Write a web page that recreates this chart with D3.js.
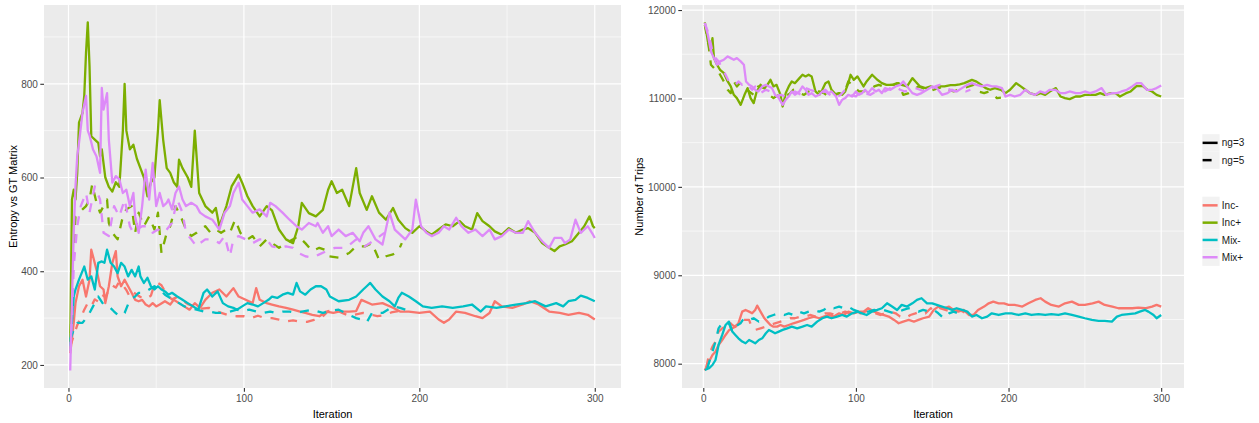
<!DOCTYPE html>
<html><head><meta charset="utf-8">
<script src="https://cdn.jsdelivr.net/npm/d3@7/dist/d3.min.js"></script>
<style>body{margin:0;background:#fff}svg{display:block}text{font-family:"Liberation Sans",Arial,sans-serif}</style>
</head><body><svg id="c" width="1259" height="423"></svg>
<script>
// ---------- categories / labels ----------
const groups = ["Inc-","Inc+","Mix-","Mix+"];
const groupColors = ["#F8766D","#7CAE00","#00BFC4","#DD8AF8"];
const ngLabels = ["ng=3","ng=5"];
const ticksX = [0,100,200,300];
const minorX = [50,150,250];
const leftTicksY = [200,400,600,800];
const leftMinorY = [300,500,700,900];
const rightTicksY = [8000,9000,10000,11000,12000];
const rightMinorY = [8500,9500,10500,11500];
const leftTitleY = "Entropy vs GT Matrix";
const rightTitleY = "Number of Trips";
const titleX = "Iteration";

// ---------- left panel: [iteration, entropy] ----------
const L_IncMinus_3 = [[1,225],[3,290],[4,332],[6,368],[8,382],[10,346],[12,382],[13,446],[16,403],[18,368],[20,361],[21,332],[23,368],[25,418],[27,443],[28,389],[30,368],[32,382],[34,368],[36,354],[38,339],[40,336],[42,339],[44,329],[46,325],[48,332],[50,325],[52,329],[55,336],[58,329],[60,339],[63,332],[66,325],[69,318],[72,332],[75,322],[78,339],[82,354],[86,361],[90,346],[94,364],[97,346],[101,339],[105,332],[107,364],[109,339],[113,332],[116,329],[120,325],[124,322],[128,318],[132,314],[135,311],[139,307],[143,304],[147,314],[151,311],[154,314],[160,314],[164,315],[167,339],[173,329],[179,332],[185,322],[189,314],[194,314],[200,311],[206,314],[211,297],[214,290],[217,297],[221,314],[226,311],[232,304],[236,300],[240,311],[243,336],[247,325],[253,322],[259,329],[263,336],[268,329],[274,314],[280,311],[285,307],[291,311],[296,307],[300,297]];
const L_IncMinus_5 = [[1,240],[3,262],[5,285],[7,300],[9,318],[11,332],[13,325],[15,340],[17,335],[19,350],[21,345],[23,360],[25,370],[27,365],[29,378],[31,370],[33,360],[35,345],[37,355],[39,350],[41,345],[44,340],[47,348],[49,372],[51,375],[53,370],[56,350],[59,340],[62,345],[65,338],[68,330],[72,325],[76,320],[80,322],[84,315],[88,310],[92,305],[96,304],[100,304],[104,300],[108,305],[112,300],[116,300],[120,297],[124,293],[128,295],[132,292],[136,292],[140,296],[144,300],[148,315],[152,318],[156,311],[160,305],[164,308],[168,311],[172,308],[176,304],[180,306],[184,312],[188,315]];
const L_IncPlus_3 = [[1,240],[2,553],[3,574],[4,553],[5,610],[6,717],[8,738],[9,774],[10,866],[11,931],[12,838],[13,688],[15,681],[17,674],[18,645],[19,660],[21,600],[23,580],[25,570],[27,590],[29,580],[31,700],[32,800],[33,700],[35,660],[37,670],[39,640],[41,620],[43,600],[45,560],[47,590],[49,600],[51,700],[52,765],[54,680],[56,620],[58,610],[60,590],[62,580],[63,638],[65,620],[68,600],[70,580],[72,700],[74.5,567],[78,539],[82,525],[84,535],[86,496],[90,539],[93,581],[97,606],[99,589],[102,560],[105,539],[109,517],[113,539],[116,530],[120,489],[124,468],[128,460],[131,496],[133,546],[137,524],[141,517],[145,531],[148,574],[150,592],[153,567],[156,574],[160,539],[164,620],[166,567],[170,531],[173,560],[177,525],[181,510],[185,535],[188,510],[192,492],[196,482],[200,496],[204,485],[207,478],[211,489],[215,500],[219,496],[223,507],[226,496],[230,489],[233,524],[236,507],[240,496],[243,485],[247,478],[251,492],[255,482],[259,489],[262,492],[266,482],[270,460],[274,450],[277,443],[280,453],[283,457],[287,464],[291,482],[294,496],[297,517],[299,496],[300,492]];
const L_IncPlus_5 = [[1,230],[2,350],[3,446],[4,517],[6,525],[8,532],[10,539],[12,553],[13.5,585],[16,546],[18,525],[20,539],[22,553],[23,503],[25,482],[28,468],[31,517],[33,532],[36,539],[38,482],[40,525],[43,496],[46,517],[49,489],[51,525],[53,439],[56,482],[58,496],[61,539],[64,517],[67,489],[70,475],[73,482],[75,489],[78,496],[81,482],[84,489],[87,482],[90,489],[92,482],[95,510],[98,482],[102,468],[105,475],[109,453],[113,468],[116,460],[120,450],[124,460],[128,468],[131,475],[135,460],[139,443],[143,450],[146,446],[148,432],[154,429],[160,439],[164,453],[169,453],[173,460],[177,425],[181,432],[185,436],[188,443],[190,460]];
const L_MixMinus_3 = [[1,240],[3,346],[4,361],[6,382],[9,410],[11,382],[13,389],[15,361],[17,418],[19,421],[20.5,418],[22,446],[24,418],[26,410],[28,396],[30,418],[32,410],[34,389],[36,403],[38,389],[40,410],[41,389],[43,375],[45,386],[47,368],[49,361],[51,368],[53,361],[55,357],[57,350],[59,354],[62,346],[65,339],[68,332],[71,325],[74,318],[77,354],[79,361],[82,346],[85,357],[88,332],[91,325],[94,322],[96,318],[99,325],[102,332],[105,329],[108,325],[111,332],[114,339],[116,346],[119,343],[122,350],[125,354],[128,350],[130,375],[132,357],[135,350],[138,361],[141,368],[144,368],[147,361],[149,346],[154,336],[160,339],[164,346],[168,361],[170,368],[172,375],[175,361],[179,346],[183,336],[186,325],[188,343],[190,354],[194,346],[198,336],[202,325],[207,322],[213,325],[219,322],[225,325],[230,329],[235,314],[238,325],[244,322],[249,325],[255,329],[261,332],[266,336],[272,325],[278,332],[282,325],[285,336],[289,339],[292,348],[296,343],[300,336]];
const L_MixMinus_5 = [[1,254],[3,275],[5,290],[8,290],[11,304],[14,325],[17,346],[20,329],[23,325],[26,314],[29,304],[32,311],[35,339],[38,346],[40,354],[43,354],[46,361],[49,368],[52,361],[55,350],[58,343],[60,339],[63,332],[66,325],[69,322],[73,318],[77,314],[80,314],[84,311],[88,311],[92,314],[96,318],[99,314],[103,318],[107,314],[111,311],[115,314],[118,311],[122,314],[126,314],[130,311],[133,314],[139,318],[145,311],[150,316],[154,318],[160,307],[164,300],[167,297],[170,291],[173,311],[179,311],[185,325],[189,322],[192,318]];
const L_MixPlus_3 = [[1,188],[2,339],[3,482],[4,581],[5,645],[6,674],[8,738],[10,774],[11,700],[12,690],[14,660],[16,645],[18,610],[19,791],[20,745],[22,780],[23,681],[25,589],[27,603],[29,596],[31,567],[33,574],[35,539],[37,567],[38,517],[40,482],[42,539],[44,617],[46,553],[48,631],[50,539],[52,567],[54,539],[56,546],[57,553],[59,532],[61,567],[63,581],[65,553],[67,539],[70,546],[73,539],[75,525],[78,517],[82,510],[86,489],[89,525],[92,539],[94,567],[97,589],[99,553],[102,539],[105,525],[109,532],[113,517],[115,546],[118,539],[122,525],[126,510],[130,496],[133,489],[137,503],[141,496],[142,503],[145,482],[148,496],[150,475],[154,489],[158,475],[162,482],[166,464],[168,482],[171,496],[175,468],[179,457],[183,525],[186,489],[188,482],[192,468],[196,489],[198,553],[201,496],[204,482],[207,475],[211,482],[214,496],[217,489],[221,514],[224,496],[228,482],[232,489],[236,475],[240,489],[243,468],[247,475],[251,489],[255,482],[259,482],[262,507],[266,482],[270,464],[274,450],[277,471],[281,471],[283,460],[286,468],[289,510],[292,482],[296,496],[299,478],[300,471]];
const L_MixPlus_5 = [[1,230],[2,304],[3,411],[5,496],[7,539],[10,567],[12,525],[15,581],[18,553],[20,482],[23,475],[26,539],[29,517],[32,553],[35,496],[37,482],[39,489],[42,496],[45,496],[48,482],[51,489],[54,482],[56,489],[59,503],[62,553],[65,525],[67,482],[70,468],[73,453],[75,460],[78,468],[82,468],[86,460],[89,475],[92,432],[94,468],[97,475],[101,468],[105,460],[109,468],[113,468],[116,453],[120,450],[124,453],[128,450],[131,439],[135,432],[139,429],[143,436],[147,443],[152,450],[158,450],[164,468],[169,453],[175,468],[180,482]];

// ---------- right panel: [iteration, number of trips] ----------
const R_IncMinus_3 = [[1,7922],[3.7,8023],[6,8099],[8,8136],[10,8212],[12.4,8268],[14.6,8325],[17,8382],[19,8400],[21,8419],[23,8457],[25.5,8589],[27.7,8608],[30,8589],[32,8570],[34,8608],[35.3,8657],[37.5,8589],[40,8514],[42,8476],[44,8438],[46,8419],[48.4,8419],[50.6,8438],[53,8419],[56,8438],[59,8457],[62.6,8476],[66,8495],[69,8514],[72.4,8533],[76,8514],[79,8533],[82,8551],[85.5,8533],[89,8570],[92,8551],[95,8589],[98.6,8570],[102,8589],[105,8589],[108,8627],[112,8589],[115,8570],[118,8551],[121.5,8533],[125,8495],[128,8457],[131,8476],[134.6,8495],[138,8476],[141,8495],[144,8514],[148,8533],[151,8608],[154,8646],[157.5,8627],[161,8646],[164,8608],[167,8589],[170.6,8608],[174,8551],[177,8551],[180,8608],[184,8646],[187,8683],[190,8702],[193.5,8683],[197,8683],[200,8665],[204,8665],[209,8646],[213,8683],[217.5,8721],[221,8740],[224,8702],[228,8665],[233,8646],[237,8683],[241.5,8702],[246,8665],[250,8665],[255,8683],[259,8702],[263,8665],[268,8646],[272,8627],[276,8627],[281,8627],[285,8635],[289.5,8627],[294,8646],[297,8665],[300,8646]];
const R_IncMinus_5 = [[2,7960],[3.7,8099],[6,8193],[8,8250],[10,8363],[12.4,8400],[14.6,8419],[16.8,8476],[19,8438],[21,8419],[23,8457],[26.6,8495],[30,8495],[32,8400],[34,8382],[37.5,8400],[41,8419],[44,8438],[47,8457],[50.6,8476],[54,8495],[57,8514],[60,8514],[64,8533],[67,8533],[70,8551],[73.5,8533],[77,8551],[80,8570],[83,8570],[86.6,8551],[90,8570],[93,8589],[96,8570],[100,8589],[103,8570],[106,8589],[109.5,8608],[113,8570],[116,8551],[119,8570],[122.6,8589],[126,8570],[129,8533],[132,8514],[135.7,8551],[139,8570],[142,8589],[145.5,8570],[149,8627],[152,8589],[155,8627],[158.6,8608],[162,8589],[165,8608],[168,8608],[172,8570]];
const R_IncPlus_3 = [[1,11860],[3,11645],[5,11570],[6,11683],[7,11456],[9,11381],[11,11324],[13.5,11287],[16,11192],[18,11136],[20,11041],[22,11004],[24.5,10928],[27,11041],[29,11117],[31,11004],[33,10947],[35,11079],[37.5,11154],[40,11117],[42,11154],[44,11211],[46,11136],[48,11154],[50.6,11041],[52,10909],[54,11060],[56,11136],[58,11192],[60,11173],[63,11230],[65,11268],[67,11249],[69,11268],[71,11249],[73.5,11079],[76,11041],[78,11098],[80,11173],[82,11192],[84,11098],[87,11041],[89,11060],[91,11041],[93,11079],[95,11173],[96.5,11268],[98.6,11211],[101,11249],[103,11192],[105,11136],[107,11192],[110.6,11268],[114,11211],[117,11173],[120,11154],[124,11154],[127,11173],[130,11154],[133.5,11136],[137,11230],[139,11192],[142,11136],[145.5,11117],[149,11136],[152,11117],[155,11136],[158,11136],[162,11150],[165,11150],[168,11160],[171,11173],[176,11210],[179,11190],[182,11155],[185,11117],[188,11098],[191,11117],[195,11098],[198,11060],[201,11098],[205,11173],[208,11136],[211,11098],[214,11060],[218,11041],[221,11060],[224,11041],[227,11079],[231,11117],[234,11022],[237,11004],[240,10992],[244,11022],[247,11022],[250,11041],[254,11041],[257,11041],[260,11060],[263,11041],[267,11060],[270,11060],[273,11022],[277,11060],[280,11079],[284,11143],[288,11140],[291,11098],[294,11079],[297,11041],[300,11022]];
const R_IncPlus_5 = [[1,11834],[3.7,11570],[5,11381],[7,11343],[9,11343],[11,11268],[13.5,11192],[16,11098],[18,11060],[20,11192],[22,11136],[24,11173],[27,11136],[30,11079],[33,11041],[36,11136],[40,11117],[43,11041],[46,11004],[49.5,11041],[53,11060],[56,11041],[59,11098],[63,11060],[66,11041],[69,11079],[72,11098],[76,11079],[79,11060],[82,11022],[85.5,11041],[89,11060],[92,11041],[95,11192],[98.6,11136],[102,11079],[105,11079],[108,11098],[112,11136],[115,11154],[118,11136],[121.5,11154],[125,11154],[128,11173],[131,11041],[134.6,11060],[138,11098],[141,11136],[144,11117],[148,11079],[151,11098],[154,11117],[157.5,11136],[161,11098],[164,11079],[167,11098],[170.6,11117],[174,11136],[177,11154],[180,11079],[184,11060],[187,11079],[190,11041],[192.4,11004],[195,11010]];
const R_MixMinus_3 = [[1,7929],[3.7,7948],[6,7985],[8,8042],[10,8212],[12.4,8325],[14.6,8438],[16.8,8476],[19,8363],[21,8325],[23,8287],[25.5,8250],[27.7,8231],[30,8268],[32,8250],[34,8231],[36.4,8268],[38.6,8287],[41,8344],[43,8382],[45,8363],[47,8344],[49.5,8363],[52,8382],[55,8400],[58,8419],[61.5,8400],[65,8419],[68,8438],[71,8419],[74.6,8476],[78,8514],[81,8533],[84,8514],[87.7,8533],[91,8551],[94,8533],[97.5,8570],[101,8589],[104,8570],[107,8551],[110.6,8589],[114,8608],[117,8627],[120.4,8683],[123.7,8646],[127,8608],[130,8665],[133.5,8646],[137,8683],[140,8721],[143,8740],[146.6,8683],[150,8683],[153,8665],[156.4,8646],[160,8627],[163,8608],[166,8627],[169.5,8608],[173,8589],[176,8533],[179,8551],[182.6,8514],[186,8533],[189,8570],[193.5,8551],[198,8570],[202,8570],[206.6,8551],[211,8570],[215,8551],[219.6,8560],[224,8551],[228,8560],[232.7,8551],[237,8570],[241.5,8551],[246,8533],[250,8514],[254.6,8495],[259,8485],[263,8485],[267.7,8476],[271,8533],[274,8551],[278.6,8560],[283,8570],[286,8589],[289.5,8608],[291.6,8589],[295,8551],[297,8514],[300,8551]];
const R_MixMinus_5 = [[2.6,7948],[6,8136],[8,8250],[10,8400],[12.4,8457],[14.6,8438],[16.8,8457],[19,8363],[21,8419],[24.4,8457],[26.6,8514],[30,8495],[33,8514],[36.4,8476],[40,8495],[43,8533],[46,8551],[49.5,8570],[53,8551],[56,8570],[59,8551],[62.6,8589],[66,8570],[69,8589],[72.4,8608],[76,8589],[79,8608],[82,8646],[85.5,8627],[89,8646],[92,8627],[95,8646],[98.6,8608],[102,8589],[105,8570],[108,8589],[112,8608],[115,8589],[118,8608],[121.5,8589],[125,8570],[128,8589],[131,8608],[134.6,8627],[138,8608],[141,8589],[144,8608],[148,8589],[151,8608],[154,8570],[157.5,8514],[161,8570],[164,8589],[167,8570],[168,8560]];
const R_MixPlus_3 = [[1,11852],[3,11720],[5,11532],[7,11456],[9,11381],[11,11419],[13.5,11438],[16,11475],[18,11456],[20,11438],[22,11456],[24.5,11419],[26.6,11381],[28,11192],[30,11154],[32,11136],[34,11098],[36,11079],[38.6,11136],[41,11154],[43,11136],[45,11117],[47,11041],[49.5,11004],[52,10928],[54,10985],[56,11022],[58,11079],[60,11041],[63,11079],[65,11136],[67,11098],[69,11041],[71,11060],[73.5,11022],[76,11041],[78,11079],[80,11098],[82,11060],[84,11079],[87,11022],[89,10928],[91,10985],[93,11004],[95,11041],[97.5,11022],[100,11079],[102,11041],[104,11060],[106,11098],[108,11060],[110.6,11117],[113,11079],[115,11098],[117,11060],[119,11117],[122.6,11098],[126,11136],[129,11154],[131,11192],[133.5,11136],[137,11060],[140,11041],[143,11060],[146.6,11098],[150,11136],[153,11117],[156.4,11041],[160,11060],[163,11098],[166,11079],[169.5,11117],[173,11154],[176,11173],[179,11154],[182.6,11136],[186,11154],[189,11136],[192,11136],[195.7,11117],[198,11022],[201,11041],[204,11022],[207.6,11041],[211,11098],[214,11060],[217.5,11041],[220.7,11079],[224,11060],[227,11098],[230.6,11098],[234,11060],[237,11060],[240,11079],[244,11060],[247,11060],[250,11079],[253.5,11060],[257,11079],[261,11117],[264,11041],[268,11060],[271,11060],[274,11079],[277.5,11098],[281,11136],[284,11173],[287,11173],[290.6,11098],[294,11098],[297,11117],[300,11147]];
const R_MixPlus_5 = [[1,11852],[3.7,11720],[6,11532],[8,11456],[10,11419],[12.4,11343],[14.6,11268],[16.8,11192],[19,11173],[21,11154],[23,11192],[25.5,11154],[27.7,11173],[30,11136],[32,11098],[34,11136],[37.5,11060],[41,11098],[44,11079],[47,11022],[50.6,11041],[54,11022],[57,11060],[60,11079],[64,11041],[67,11117],[70,11098],[73.5,11079],[77,11060],[80,11079],[83,11041],[86.6,11004],[90,11041],[93,11098],[96,11041],[100,11022],[103,11079],[106,11060],[109.5,11041],[113,11079],[116,11098],[119,11079],[122.6,11117],[126,11136],[129,11098],[132,11079],[135.7,11098],[139,11117],[142,11098],[145.5,11079],[149,11098],[152,11136],[155,11154],[158.6,11117],[162,11098],[165,11079],[168,11098],[172,11079],[175,11098]];

// ---------- assemble series (draw order: group, then ng) ----------
const leftSeries = [
  {g:0,ng:0,d:L_IncMinus_3},{g:0,ng:1,d:L_IncMinus_5},
  {g:1,ng:0,d:L_IncPlus_3},{g:1,ng:1,d:L_IncPlus_5},
  {g:2,ng:0,d:L_MixMinus_3},{g:2,ng:1,d:L_MixMinus_5},
  {g:3,ng:0,d:L_MixPlus_3},{g:3,ng:1,d:L_MixPlus_5}];
const rightSeries = [
  {g:0,ng:0,d:R_IncMinus_3},{g:0,ng:1,d:R_IncMinus_5},
  {g:1,ng:0,d:R_IncPlus_3},{g:1,ng:1,d:R_IncPlus_5},
  {g:2,ng:0,d:R_MixMinus_3},{g:2,ng:1,d:R_MixMinus_5},
  {g:3,ng:0,d:R_MixPlus_3},{g:3,ng:1,d:R_MixPlus_5}];

const svg = d3.select("#c");
const LW = 2.3, DASH = "9,9";
const dashFor = ng => ng === 1 ? DASH : null;

function expand(ext){ const s = ext[1]-ext[0]; return [ext[0]-0.05*s, ext[1]+0.05*s]; }

function panel(p){
  const all = p.series.flatMap(s => s.d);
  const x = d3.scaleLinear().domain(expand(d3.extent(all, d=>d[0]))).range([p.x0, p.x1]);
  const y = d3.scaleLinear().domain(expand(d3.extent(all, d=>d[1]))).range([p.y1, p.y0]);
  const g = svg.append("g");
  g.append("rect").attr("x",p.x0).attr("y",p.y0).attr("width",p.x1-p.x0).attr("height",p.y1-p.y0).attr("fill","#EBEBEB");
  g.selectAll(".mx").data(minorX).join("line").attr("x1",d=>x(d)).attr("x2",d=>x(d)).attr("y1",p.y0).attr("y2",p.y1).attr("stroke","#fff").attr("stroke-width",0.6);
  g.selectAll(".my").data(p.minorY).join("line").attr("y1",d=>y(d)).attr("y2",d=>y(d)).attr("x1",p.x0).attr("x2",p.x1).attr("stroke","#fff").attr("stroke-width",0.6);
  g.selectAll(".Mx").data(ticksX).join("line").attr("x1",d=>x(d)).attr("x2",d=>x(d)).attr("y1",p.y0).attr("y2",p.y1).attr("stroke","#fff").attr("stroke-width",1.2);
  g.selectAll(".My").data(p.ticksY).join("line").attr("y1",d=>y(d)).attr("y2",d=>y(d)).attr("x1",p.x0).attr("x2",p.x1).attr("stroke","#fff").attr("stroke-width",1.2);
  const clipId = "clip"+p.id;
  svg.append("clipPath").attr("id",clipId).append("rect").attr("x",p.x0).attr("y",p.y0).attr("width",p.x1-p.x0).attr("height",p.y1-p.y0);
  const line = d3.line().x(d=>x(d[0])).y(d=>y(d[1]));
  g.append("g").attr("clip-path",`url(#${clipId})`).selectAll("path").data(p.series).join("path")
    .attr("d",s=>line(s.d)).attr("fill","none").attr("stroke",s=>groupColors[s.g])
    .attr("stroke-width",LW).attr("stroke-dasharray",s=>dashFor(s.ng))
    .attr("stroke-linejoin","round").attr("stroke-linecap","butt");
  const ax = g.append("g").attr("transform",`translate(0,${p.y1})`)
    .call(d3.axisBottom(x).tickValues(ticksX).tickSize(3.7).tickPadding(3).tickFormat(d3.format("d")));
  const ay = g.append("g").attr("transform",`translate(${p.x0},0)`)
    .call(d3.axisLeft(y).tickValues(p.ticksY).tickSize(3.7).tickPadding(2.5).tickFormat(d3.format("d")));
  [ax,ay].forEach(a=>{
    a.select(".domain").remove();
    a.selectAll(".tick line").attr("stroke","#333333").attr("stroke-width",1.1);
    a.selectAll(".tick text").attr("fill","#4D4D4D").style("font-size","10px").style("font-family",'"Liberation Sans",Arial,sans-serif');
  });
  g.append("text").attr("x",(p.x0+p.x1)/2).attr("y",418).attr("text-anchor","middle")
    .style("font-size","11px").attr("fill","#000").text(titleX);
  g.append("text").attr("transform",`translate(${p.titleX},${(p.y0+p.y1)/2}) rotate(-90)`)
    .attr("text-anchor","middle").style("font-size","11px").attr("fill","#000").text(p.titleY);
}

panel({id:"L",x0:44,x1:621,y0:5,y1:388,series:leftSeries,ticksY:leftTicksY,minorY:leftMinorY,titleY:leftTitleY,titleX:16.5});
panel({id:"R",x0:682,x1:1184,y0:5,y1:388,series:rightSeries,ticksY:rightTicksY,minorY:rightMinorY,titleY:rightTitleY,titleX:643});

// ---------- legend ----------
const KW = 17.3, kx = 1202.3;
const lg = svg.append("g");
function legendBlock(y0, items){
  items.forEach((it,i)=>{
    const yy = y0 + i*KW;
    lg.append("rect").attr("x",kx).attr("y",yy).attr("width",KW).attr("height",KW).attr("fill","#F2F2F2");
    lg.append("line").attr("x1",kx+0.3).attr("x2",kx+15.3).attr("y1",yy+KW/2).attr("y2",yy+KW/2)
      .attr("stroke",it.color).attr("stroke-width",LW+0.2).attr("stroke-dasharray",it.dash);
    lg.append("text").attr("x",kx+KW+2.2).attr("y",yy+KW/2+3.6).style("font-size","10px").attr("fill","#1a1a1a").text(it.label);
  });
}
legendBlock(134.2, ngLabels.map((l,i)=>({label:l,color:"#000",dash:dashFor(i)})));
legendBlock(196.7, groups.map((l,i)=>({label:l,color:groupColors[i],dash:null})));
</script></body></html>
